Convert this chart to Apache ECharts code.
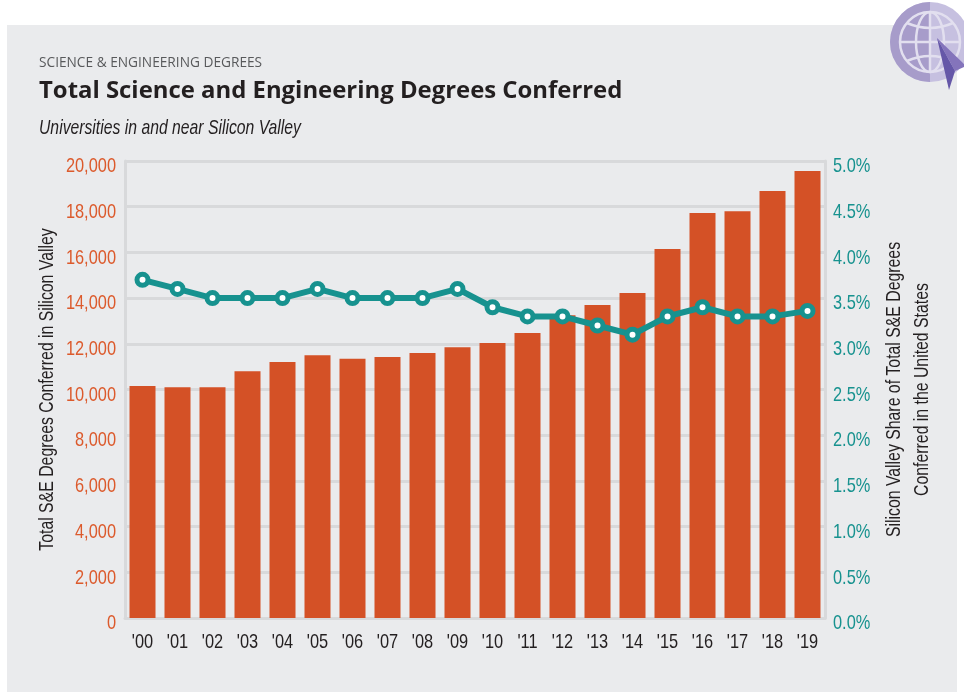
<!DOCTYPE html>
<html><head><meta charset="utf-8">
<style>html,body{margin:0;padding:0;background:#fff}#c{width:964px;height:698px}</style>
<script src="https://cdn.jsdelivr.net/npm/echarts@6/dist/echarts.min.js"></script>
</head><body><div id="c"></div>
<script>
const years = ["'00","'01","'02","'03","'04","'05","'06","'07","'08","'09","'10","'11","'12","'13","'14","'15","'16","'17","'18","'19"];
const degrees = [10150,10100,10100,10800,11200,11500,11350,11420,11600,11850,12030,12470,13250,13700,14220,16150,17720,17800,18690,19560];
const share = [3.7,3.6,3.5,3.5,3.5,3.6,3.5,3.5,3.5,3.6,3.4,3.3,3.3,3.2,3.1,3.3,3.4,3.3,3.3,3.36];
const kicker = "SCIENCE & ENGINEERING DEGREES";
const heading = "Total Science and Engineering Degrees Conferred";
const subheading = "Universities in and near Silicon Valley";
const leftName = "Total S&E Degrees Conferred in Silicon Valley";
const rightName = "Silicon Valley Share of Total S&E Degrees\nConferred in the United States";

const NARROW = '"Liberation Sans",sans-serif';
const GRID = '#d8d9db', ORANGE = '#d45126', TEAL = '#17928f', ORANGE_T = '#dc5a2c';
const chart = echarts.init(document.getElementById('c'), null, {renderer:'canvas'});
const ringStyle = {fill:'none', stroke:'#e2dfef', lineWidth:2.5};
chart.setOption({
  animation:false,
  backgroundColor:'#ffffff',
  title:[
    {text:kicker,left:39,top:56,padding:0,textStyle:{fontFamily:'"Open Sans"',fontSize:13.7,fontWeight:'normal',color:'#58595b'}},
    {text:heading,left:39,top:79,padding:0,textStyle:{fontFamily:'"Open Sans"',fontSize:23.9,fontWeight:'bold',color:'#231f20'}},
    {text:subheading,left:39,top:118,padding:0,textStyle:{fontFamily:NARROW,fontSize:20.2,fontStyle:'italic',fontWeight:'normal',color:'#231f20'}}
  ],
  grid:{left:125,right:139,top:161,bottom:80,containLabel:false},
  xAxis:{type:'category',data:years,
    axisLine:{show:true,lineStyle:{color:GRID,width:3}},
    axisTick:{show:false},
    axisLabel:{fontFamily:NARROW,fontSize:21,color:'#231f20',margin:14,interval:0}
  },
  yAxis:[
    {type:'value',min:0,max:20000,interval:2000,
     name:leftName,nameLocation:'middle',nameGap:68,nameRotate:90,nameMoveOverlap:false,
     nameTextStyle:{fontFamily:NARROW,fontSize:20.3,color:'#231f20'},
     axisLine:{show:true,lineStyle:{color:GRID,width:3}},axisTick:{show:false},
     axisLabel:{fontFamily:NARROW,fontSize:21,color:ORANGE_T,margin:9,verticalAlign:'top',lineHeight:11,
       formatter:v=>v.toLocaleString('en-US')},
     splitLine:{show:true,lineStyle:{color:GRID,width:3}}},
    {type:'value',min:0,max:5,interval:0.5,
     name:rightName,nameLocation:'middle',nameGap:55,nameRotate:90,nameMoveOverlap:false,
     nameTextStyle:{fontFamily:NARROW,fontSize:20.3,color:'#231f20',lineHeight:28},
     axisLine:{show:true,lineStyle:{color:GRID,width:3}},axisTick:{show:false},
     axisLabel:{fontFamily:NARROW,fontSize:21,color:TEAL,margin:8,verticalAlign:'top',lineHeight:11,
       formatter:v=>v.toFixed(1)+'%'},
     splitLine:{show:false}}
  ],
  series:[
    {type:'bar',data:degrees,yAxisIndex:0,barWidth:26,itemStyle:{color:ORANGE},z:2},
    {type:'line',data:share,yAxisIndex:1,symbol:'circle',symbolSize:11,showSymbol:true,
     lineStyle:{color:TEAL,width:6},
     itemStyle:{color:'#ffffff',borderColor:TEAL,borderWidth:5},z:3}
  ],
  graphic:[
    {type:'rect',z:-10,silent:true,shape:{x:7,y:25,width:950,height:667},style:{fill:'#eaebed'}},
    {type:'group',z:20,silent:true,children:[
      {type:'circle',shape:{cx:930,cy:42,r:40},style:{fill:'#c6c0e0'}},
      {type:'sector',shape:{cx:930,cy:42,r:40,r0:0,startAngle:Math.PI/2,endAngle:Math.PI*1.5},style:{fill:'#a79cca'}},
      {type:'circle',shape:{cx:930,cy:42,r:30},style:ringStyle},
      {type:'ellipse',shape:{cx:930,cy:42,rx:14,ry:30},style:ringStyle},
      {type:'line',shape:{x1:930,y1:12,x2:930,y2:72},style:ringStyle},
      {type:'line',shape:{x1:900,y1:42,x2:960,y2:42},style:ringStyle},
      {type:'bezierCurve',shape:{x1:907,y1:23,x2:953,y2:23,cpx1:930,cpy1:33},style:ringStyle},
      {type:'bezierCurve',shape:{x1:907,y1:61,x2:953,y2:61,cpx1:930,cpy1:51},style:ringStyle},
      {type:'polygon',shape:{points:[[937,38],[964,64],[964,67],[955,71]]},style:{fill:'#8474bb'}},
      {type:'polygon',shape:{points:[[937,38],[955,71],[949,90]]},style:{fill:'#6557a8'}}
    ]}
  ]
});
// No condensed face is installed: narrow the Liberation Sans labels around their own anchors.
const zr = chart.getZr();
zr.storage.getRoots().forEach(root => {
  const visit = el => {
    if (el.type === 'text' && el.style && /Liberation/.test(el.style.fontFamily || '')) {
      el.scaleX = 0.78; el.markRedraw();
    }
  };
  visit(root);
  if (root.traverse) root.traverse(visit);
});
zr.refreshImmediately();
</script></body></html>
